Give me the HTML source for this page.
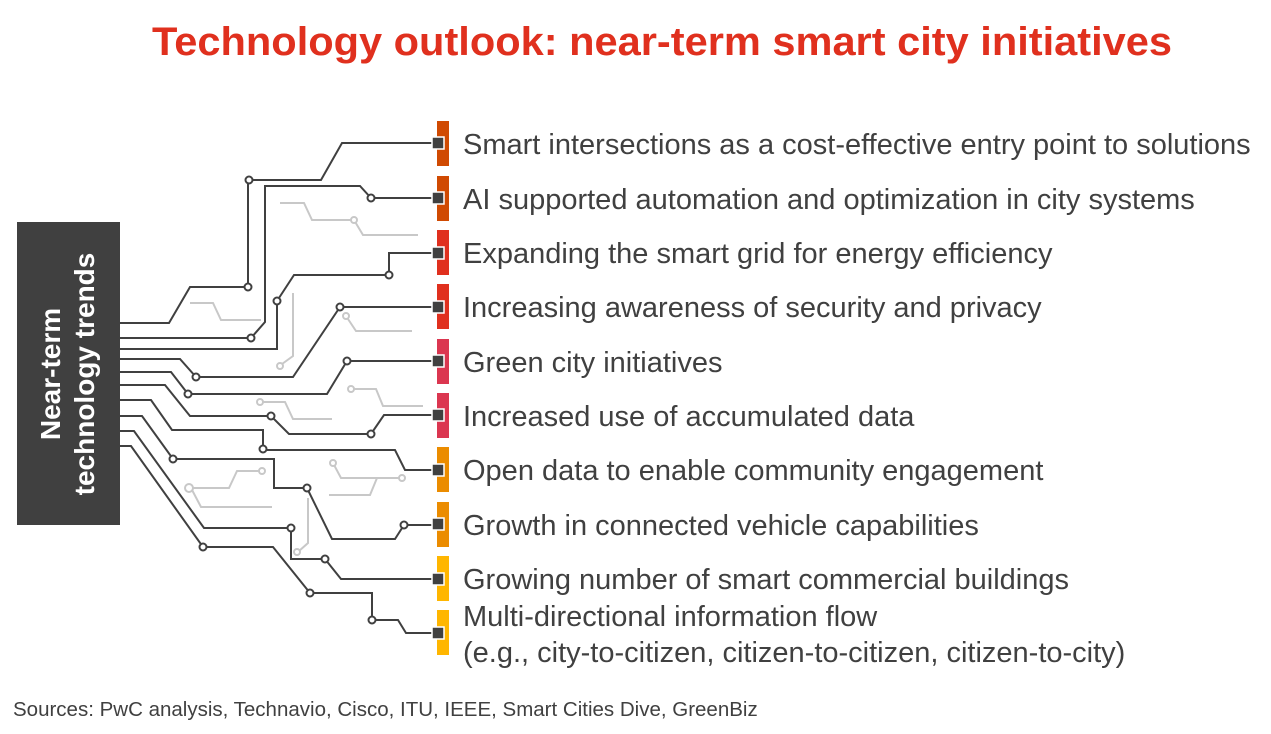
<!DOCTYPE html>
<html><head><meta charset="utf-8"><style>
body{margin:0;background:#fff;}
svg{display:block;font-family:"Liberation Sans",Arial,sans-serif;}
</style></head><body>
<svg width="1271" height="734" viewBox="0 0 1271 734">
<text x="662" y="55" text-anchor="middle" font-size="40" font-weight="bold" fill="#e0301e" textLength="1020" lengthAdjust="spacingAndGlyphs">Technology outlook: near-term smart city initiatives</text>

<g>
<rect x="17" y="222" width="103" height="303" fill="#404040"/>
<text transform="translate(60,374) rotate(-90)" text-anchor="middle" font-size="28" font-weight="bold" fill="#fff">Near-term</text>
<text transform="translate(94,374) rotate(-90)" text-anchor="middle" font-size="28" font-weight="bold" fill="#fff">technology trends</text>
</g>

<g fill="none" stroke="#c8c8c8" stroke-width="2">
<polyline points="190,303 213,303 221,320 261,320"/>
<polyline points="280,203 304,203 312,220 354,220 363,235 418,235"/>
<polyline points="293,293 293,356 282,364"/>
<polyline points="346,316 356,331 412,331"/>
<polyline points="353,389 376,389 383,406 423,406"/>
<polyline points="262,402 285,402 293,419 332,419"/>
<polyline points="333,463 341,478 400,478"/>
<polyline points="377,478 370,495 329,495"/>
<polyline points="260,471 237,471 229,488 191,488"/>
<polyline points="191,488 201,507 272,507"/>
<polyline points="308,498 308,543 299,551"/>
<circle cx="354" cy="220" r="3" fill="#fff"/><circle cx="280" cy="366" r="3" fill="#fff"/>
<circle cx="346" cy="316" r="3" fill="#fff"/><circle cx="351" cy="389" r="3" fill="#fff"/>
<circle cx="260" cy="402" r="3" fill="#fff"/><circle cx="333" cy="463" r="3" fill="#fff"/>
<circle cx="402" cy="478" r="3" fill="#fff"/><circle cx="262" cy="471" r="3" fill="#fff"/>
<circle cx="189" cy="488" r="4" fill="#fff"/><circle cx="297" cy="552" r="3" fill="#fff"/>
</g>

<g fill="none" stroke="#404040" stroke-width="2">
<polyline points="120,323 169,323 190,287 248,287 248,180 321,180 342,143 437,143"/>
<polyline points="120,338 251,338 265,322 265,186 360,186 371,198 437,198"/>
<polyline points="120,349 277,349 277,301 294,275 389,275 389,253 437,253"/>
<polyline points="120,359 180,359 196,377 293,377 340,307 437,307"/>
<polyline points="120,372 171,372 188,394 327,394 347,361 437,361"/>
<polyline points="120,385 165,385 190,416 271,416 289,434 371,434 384,415 437,415"/>
<polyline points="120,400 151,400 172,430 263,430 263,450 395,450 405,470 437,470"/>
<polyline points="120,416 142,416 173,459 274,459 274,488 307,488 332,539 395,539 404,525 437,525"/>
<polyline points="120,431 134,431 204,528 291,528 291,559 325,559 341,579 437,579"/>
<polyline points="120,446 131,446 203,547 273,547 310,593 372,593 372,620 398,620 406,633 437,633"/>
</g>
<g fill="#fff" stroke="#404040" stroke-width="2">
<circle cx="248" cy="287" r="3.5"/><circle cx="249" cy="180" r="3.5"/>
<circle cx="251" cy="338" r="3.5"/><circle cx="371" cy="198" r="3.5"/>
<circle cx="277" cy="301" r="3.5"/><circle cx="389" cy="275" r="3.5"/>
<circle cx="196" cy="377" r="3.5"/><circle cx="340" cy="307" r="3.5"/>
<circle cx="188" cy="394" r="3.5"/><circle cx="347" cy="361" r="3.5"/>
<circle cx="271" cy="416" r="3.5"/><circle cx="371" cy="434" r="3.5"/>
<circle cx="263" cy="449" r="3.5"/>
<circle cx="173" cy="459" r="3.5"/><circle cx="307" cy="488" r="3.5"/><circle cx="404" cy="525" r="3.5"/>
<circle cx="291" cy="528" r="3.5"/><circle cx="325" cy="559" r="3.5"/>
<circle cx="203" cy="547" r="3.5"/><circle cx="310" cy="593" r="3.5"/><circle cx="372" cy="620" r="3.5"/>
</g>

<g font-size="29" fill="#404040">
<g><rect x="437" y="121" width="12" height="45" fill="#d04a02"/><rect x="432" y="137" width="12" height="12" fill="#404040" stroke="#fff" stroke-width="1.5"/><text x="463" y="154">Smart intersections as a cost-effective entry point to solutions</text></g>
<g><rect x="437" y="176" width="12" height="45" fill="#d04a02"/><rect x="432" y="192" width="12" height="12" fill="#404040" stroke="#fff" stroke-width="1.5"/><text x="463" y="209">AI supported automation and optimization in city systems</text></g>
<g><rect x="437" y="230" width="12" height="45" fill="#e0301e"/><rect x="432" y="247" width="12" height="12" fill="#404040" stroke="#fff" stroke-width="1.5"/><text x="463" y="263">Expanding the smart grid for energy efficiency</text></g>
<g><rect x="437" y="284" width="12" height="45" fill="#e0301e"/><rect x="432" y="301" width="12" height="12" fill="#404040" stroke="#fff" stroke-width="1.5"/><text x="463" y="317">Increasing awareness of security and privacy</text></g>
<g><rect x="437" y="339" width="12" height="45" fill="#db3650"/><rect x="432" y="355" width="12" height="12" fill="#404040" stroke="#fff" stroke-width="1.5"/><text x="463" y="372">Green city initiatives</text></g>
<g><rect x="437" y="393" width="12" height="45" fill="#db3650"/><rect x="432" y="409" width="12" height="12" fill="#404040" stroke="#fff" stroke-width="1.5"/><text x="463" y="426">Increased use of accumulated data</text></g>
<g><rect x="437" y="447" width="12" height="45" fill="#eb8c00"/><rect x="432" y="464" width="12" height="12" fill="#404040" stroke="#fff" stroke-width="1.5"/><text x="463" y="480">Open data to enable community engagement</text></g>
<g><rect x="437" y="502" width="12" height="45" fill="#eb8c00"/><rect x="432" y="518" width="12" height="12" fill="#404040" stroke="#fff" stroke-width="1.5"/><text x="463" y="535">Growth in connected vehicle capabilities</text></g>
<g><rect x="437" y="556" width="12" height="45" fill="#ffb600"/><rect x="432" y="573" width="12" height="12" fill="#404040" stroke="#fff" stroke-width="1.5"/><text x="463" y="589">Growing number of smart commercial buildings</text></g>
<g><rect x="437" y="610" width="12" height="45" fill="#ffb600"/><rect x="432" y="627" width="12" height="12" fill="#404040" stroke="#fff" stroke-width="1.5"/><text x="463" y="626">Multi-directional information flow</text><text x="463" y="662">(e.g., city-to-citizen, citizen-to-citizen, citizen-to-city)</text></g>
</g>

<text x="13" y="716" font-size="20.5" fill="#404040">Sources: PwC analysis, Technavio, Cisco, ITU, IEEE, Smart Cities Dive, GreenBiz</text>
</svg>
</body></html>
